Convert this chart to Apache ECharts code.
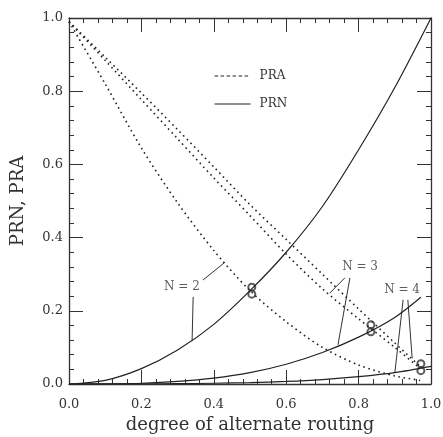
<!DOCTYPE html>
<html>
<head>
<meta charset="utf-8">
<style>
html,body{margin:0;padding:0;background:#fff}
#main{width:443px;height:437px}
</style>
<script src="https://cdn.jsdelivr.net/npm/echarts@6/dist/echarts.min.js"></script>
</head>
<body>
<div id="main"></div>
<script>
// values (degree of alternate routing -> probability)
var xFull = [0, 0.1, 0.2, 0.3, 0.4, 0.5, 0.6, 0.7, 0.8, 0.9, 1.0];
var prn2 = [0, 0.01, 0.042, 0.093, 0.163, 0.255, 0.36, 0.485, 0.64, 0.81, 1.0];
var xPrn3 = [0, 0.1, 0.2, 0.3, 0.4, 0.5, 0.6, 0.7, 0.8, 0.9, 0.972];
var prn3 = [0, 0.0005, 0.002, 0.007, 0.016, 0.031, 0.054, 0.086, 0.128, 0.182, 0.237];
var prn4 = [0, 0, 0.0005, 0.001, 0.002, 0.004, 0.007, 0.012, 0.02, 0.031, 0.048];

var xPra2 = [0, 0.1, 0.2, 0.3, 0.4, 0.5, 0.6, 0.7, 0.8, 0.9, 0.97];
var pra2 = [0.99, 0.82, 0.645, 0.495, 0.365, 0.255, 0.17, 0.1, 0.052, 0.022, 0.01];
var xPra3 = [0, 0.1, 0.2, 0.3, 0.4, 0.5, 0.6, 0.7, 0.8, 0.9, 0.97];
var pra3 = [0.99, 0.884, 0.777, 0.67, 0.563, 0.46, 0.355, 0.26, 0.178, 0.1, 0.042];
var xPra4 = [0, 0.1, 0.2, 0.3, 0.4, 0.5, 0.6, 0.7, 0.8, 0.9, 0.972];
var pra4 = [0.99, 0.893, 0.795, 0.695, 0.593, 0.49, 0.395, 0.3, 0.205, 0.112, 0.046];

// crossing points PRN = PRA
var optimum = [[0.505, 0.255], [0.834, 0.152], [0.972, 0.046]];

// annotation text and leader lines
var noteNames = ['N = 2', 'N = 3', 'N = 4'];
var notePos = [[0.312, 0.265], [0.804, 0.32], [0.92, 0.257]];
var leaders = [
  [[0.37, 0.284], [0.43, 0.332]],
  [[0.343, 0.238], [0.34, 0.117]],
  [[0.762, 0.29], [0.72, 0.248]],
  [[0.776, 0.29], [0.743, 0.107]],
  [[0.923, 0.23], [0.9, 0.03]],
  [[0.936, 0.23], [0.948, 0.07]]
];

var font = 'DejaVu Serif';
var ink = '#222';

function pairs(xs, ys) {
  return xs.map(function (x, i) { return [x, ys[i]]; });
}

function curve(name, xs, ys) {
  var dotted = name == 'PRA';
  return {
    name: name,
    type: 'line',
    data: pairs(xs, ys),
    symbol: 'none',
    smooth: 0.3,
    silent: true,
    lineStyle: {
      color: ink,
      width: dotted ? 1.6 : 1.2,
      type: dotted ? [1.6, 3.6] : 'solid'
    }
  };
}

function axisCommon(pos, withLabel) {
  return {
    type: 'value',
    min: 0,
    max: 1,
    interval: 0.2,
    position: pos,
    axisLine: {show: true, onZero: false, lineStyle: {color: '#333', width: 1.3}},
    axisTick: {show: true, inside: true, length: 14, lineStyle: {color: '#333', width: 1}},
    minorTick: {show: true, splitNumber: 5, length: 5, lineStyle: {color: '#333', width: 1}},
    splitLine: {show: false},
    axisLabel: {
      show: withLabel,
      fontFamily: font,
      fontSize: 13,
      color: '#333',
      margin: 8,
      formatter: function (v) { return v.toFixed(1); }
    }
  };
}

var xBottom = axisCommon('bottom', true);
xBottom.name = 'degree of alternate routing';
xBottom.nameLocation = 'middle';
xBottom.nameGap = 28;
xBottom.nameTextStyle = {fontFamily: font, fontSize: 18, color: '#333'};
xBottom.axisLabel.margin = 14;

var yLeft = axisCommon('left', true);
yLeft.name = 'PRN, PRA';
yLeft.nameLocation = 'middle';
yLeft.nameGap = 42;
yLeft.nameTextStyle = {fontFamily: font, fontSize: 18, color: '#333'};
yLeft.axisLabel.margin = 6;

var xTop = axisCommon('top', false);
var yRight = axisCommon('right', false);

var myChart = echarts.init(document.getElementById('main'));
var option = {
  animation: false,
  backgroundColor: '#fff',
  grid: {left: 69, right: 12, top: 18, bottom: 53, outerBoundsMode: 'none'},
  legend: {
    orient: 'vertical',
    left: 209,
    top: 65,
    itemWidth: 36,
    itemHeight: 14,
    itemGap: 16,
    itemStyle: {opacity: 0},
    textStyle: {fontFamily: font, fontSize: 12, color: '#333', padding: [0, 0, 0, 4]},
    data: [
      {name: 'PRA', lineStyle: {type: [3.5, 2.5], width: 1.2, color: ink}},
      {name: 'PRN', lineStyle: {type: 'solid', width: 1.2, color: ink}}
    ]
  },
  xAxis: [xBottom, xTop],
  yAxis: [yLeft, yRight],
  series: [
    curve('PRA', xPra2, pra2),
    curve('PRA', xPra3, pra3),
    curve('PRA', xPra4, pra4),
    curve('PRN', xFull, prn2),
    curve('PRN', xPrn3, prn3),
    curve('PRN', xFull, prn4),
    {
      type: 'lines',
      coordinateSystem: 'cartesian2d',
      silent: true,
      data: leaders.map(function (c) { return {coords: c}; }),
      lineStyle: {color: '#333', width: 1, opacity: 1}
    },
    {
      type: 'scatter',
      silent: true,
      data: optimum,
      symbol: 'emptyCircle',
      symbolSize: 7,
      symbolOffset: [0, -3.5],
      itemStyle: {color: '#333', borderWidth: 1.4}
    },
    {
      type: 'scatter',
      silent: true,
      data: optimum,
      symbol: 'emptyCircle',
      symbolSize: 7,
      symbolOffset: [0, 3.5],
      itemStyle: {color: '#333', borderWidth: 1.4}
    },
    {
      type: 'scatter',
      silent: true,
      data: notePos.map(function (p, i) { return {name: noteNames[i], value: p}; }),
      symbol: 'circle',
      symbolSize: 1,
      itemStyle: {color: 'rgba(0,0,0,0)'},
      label: {
        show: true,
        position: 'inside',
        fontFamily: font,
        fontSize: 12,
        color: '#333',
        formatter: function (p) { return p.name; }
      }
    }
  ]
};
myChart.setOption(option);
</script>
</body>
</html>
